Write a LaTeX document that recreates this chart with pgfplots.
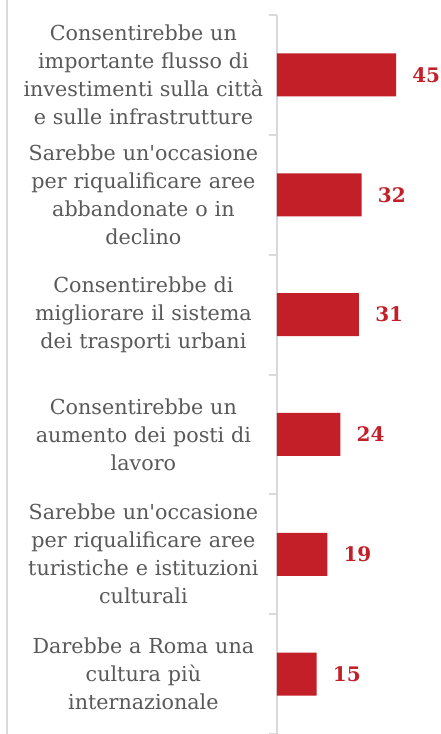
\documentclass[border=0pt]{standalone}
\usepackage{pgfplots}
\pgfplotsset{compat=1.18}
\usepackage{fontspec}
\setmainfont{DejaVu Serif}[Ligatures=TeXOff]
\definecolor{barred}{HTML}{C21F28}
\definecolor{txtgray}{HTML}{595959}
\definecolor{axgray}{HTML}{D9D9D9}
\begin{document}
\begin{tikzpicture}
\useasboundingbox (-207.75pt,0) rectangle (123pt,550.5pt);
\begin{axis}[
  scale only axis,
  width=123pt, height=539.25pt,
  at={(0,0)}, anchor=south west,
  xbar, bar width=32.25pt,
  xmin=0, xmax=62,
  ymin=-0.5, ymax=5.5, y dir=reverse,
  hide x axis,
  axis y line*=left,
  y axis line style={axgray, line width=1.5pt, -},
  ytick={0,...,5},
  yticklabels={
    {Consentirebbe un\\importante flusso di\\investimenti sulla città\\e sulle infrastrutture},
    {Sarebbe un'occasione\\per riqualificare aree\\abbandonate o in\\declino},
    {Consentirebbe di\\migliorare il sistema\\dei trasporti urbani},
    {Consentirebbe un\\aumento dei posti di\\lavoro},
    {Sarebbe un'occasione\\per riqualificare aree\\turistiche e istituzioni\\culturali},
    {Darebbe a Roma una\\cultura più\\internazionale}},
  minor ytick={-0.5,0.5,...,5.5},
  major tick length=0pt, minor tick length=6pt,
  tick align=outside, ytick pos=left,
  minor tick style={axgray, line width=1.5pt},
  yticklabel style={align=center, text width=190pt, inner sep=0pt,
    font=\fontsize{15.5}{21}\selectfont, text=txtgray},
  yticklabel shift=5pt,
  /pgf/number format/assume math mode=true,
  nodes near coords,
  nodes near coords style={anchor=west, xshift=12pt, inner sep=0pt,
    text=barred, font=\fontsize{15}{18}\selectfont\bfseries},
]
\addplot[fill=barred, draw=none] coordinates {(45,0) (32,1) (31,2) (24,3) (19,4) (15,5)};
\end{axis}
\draw[axgray, line width=1.5pt] (-202.5pt,0) -- (-202.5pt,550.5pt);
\end{tikzpicture}
\end{document}
